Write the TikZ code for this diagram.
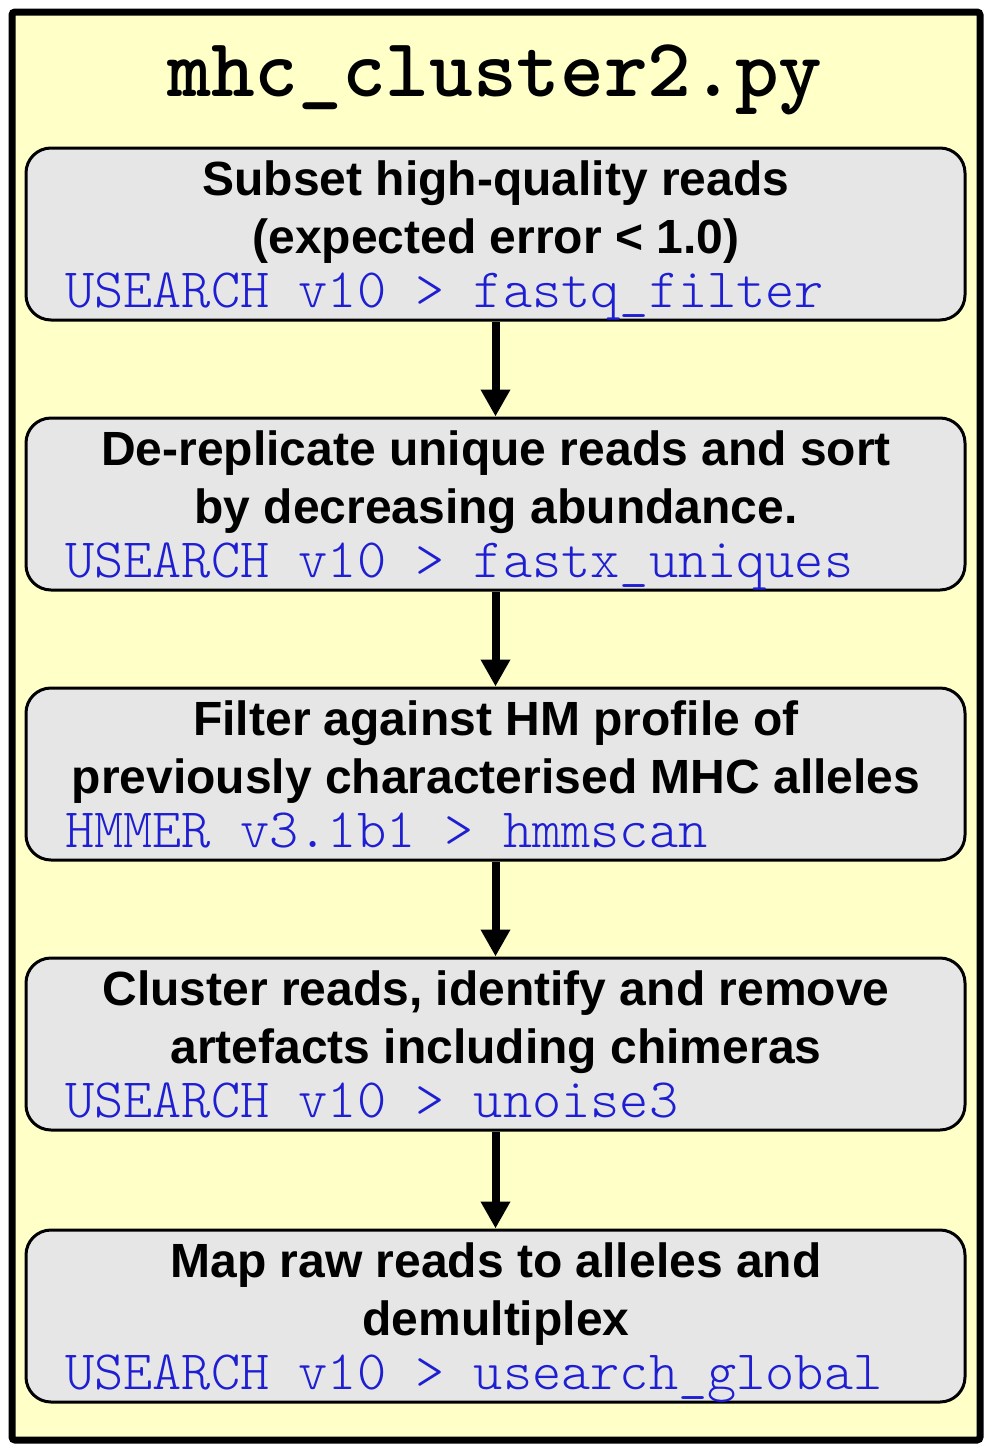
\documentclass[tikz,border=0pt]{standalone}
\usepackage{fontspec}
\setmainfont{Liberation Sans}
\newfontfamily\titlefont{lmmonolt10-bold.otf}
\newfontfamily\cmdfont{lmmonolt10-regular.otf}
\usetikzlibrary{arrows.meta}
\definecolor{bgyellow}{RGB}{255,255,200}
\definecolor{boxgray}{RGB}{230,230,230}
\definecolor{cmdblue}{RGB}{30,30,210}
\tikzset{
  frame/.style={draw=black, line width=7pt, fill=bgyellow, rounded corners=3pt,
    minimum width=968pt, minimum height=1428pt, inner sep=0pt},
  stepbox/.style={draw=black, line width=3pt, fill=boxgray, rounded corners=25pt,
    minimum width=939pt, minimum height=172pt, inner sep=0pt},
  maintitle/.style={anchor=base, inner sep=0pt, font=\titlefont\fontsize{83.2}{90}\selectfont},
  steptext/.style={anchor=base, inner sep=0pt, font=\bfseries\fontsize{48}{58}\selectfont},
  cmdtext/.style={anchor=base west, inner sep=0pt, text=cmdblue, font=\cmdfont\fontsize{55.6}{60}\selectfont},
  flow/.style={line width=8pt, -{Triangle[width=28pt,length=27pt]}}
}
\begin{document}
\begin{tikzpicture}[x=1pt,y=-1pt]
\useasboundingbox (0,0) rectangle (992,1451);
\node[frame] (frame) at (496,726) {};
\node[maintitle] (title) at (495,96) {mhc\_cluster2.py};

\foreach \i/\top in {1/148,2/418,3/688,4/958,5/1230}{
  \node[stepbox] (b\i) at (495.5,\top+86) {};
}

\node[steptext] (t1a) at (496,195) {Subset high-quality reads};
\node[steptext] (t1b) at (496,253) {(expected error < 1.0)};
\node[cmdtext] (c1) at (65,307) {USEARCH v10 > fastq\_filter};

\node[steptext] (t2a) at (496,465) {De-replicate unique reads and sort};
\node[steptext] (t2b) at (496,523) {by decreasing abundance.};
\node[cmdtext] (c2) at (65,577) {USEARCH v10 > fastx\_uniques};

\node[steptext] (t3a) at (496,735) {Filter against HM profile of};
\node[steptext] (t3b) at (496,793) {previously characterised MHC alleles};
\node[cmdtext] (c3) at (65,847) {HMMER v3.1b1 > hmmscan};

\node[steptext] (t4a) at (496,1005) {Cluster reads, identify and remove};
\node[steptext] (t4b) at (496,1063) {artefacts including chimeras};
\node[cmdtext] (c4) at (65,1117) {USEARCH v10 > unoise3};

\node[steptext] (t5a) at (496,1277) {Map raw reads to alleles and};
\node[steptext] (t5b) at (496,1335) {demultiplex};
\node[cmdtext] (c5) at (65,1389) {USEARCH v10 > usearch\_global};

\draw[flow] (b1.south) -- (b2.north);
\draw[flow] (b2.south) -- (b3.north);
\draw[flow] (b3.south) -- (b4.north);
\draw[flow] (b4.south) -- (b5.north);
\end{tikzpicture}
\end{document}
